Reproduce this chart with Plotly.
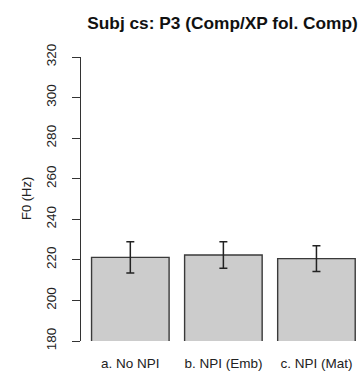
import plotly.graph_objects as go

categories = ["a. No NPI", "b. NPI (Emb)", "c. NPI (Mat)"]
means = [221.2, 222.4, 220.6]
errors = [7.7, 6.5, 6.3]
y_ticks = [180, 200, 220, 240, 260, 280, 300, 320]

FONT = "Liberation Sans, Arial, Helvetica, sans-serif"

fig = go.Figure(
    go.Bar(
        x=categories,
        y=means,
        marker=dict(color="#cccccc", line=dict(color="#3a3a3a", width=1.4)),
        error_y=dict(type="data", array=errors, visible=True,
                     color="#222222", thickness=1.5, width=4),
    )
)

fig.update_layout(
    width=360, height=374,
    margin=dict(l=81, r=0, t=57.3, b=33.3),
    paper_bgcolor="white", plot_bgcolor="white",
    bargap=1 - 1 / 1.2,
    showlegend=False,
    font=dict(family=FONT, color="#222222"),
    title=dict(text="<b>Subj cs: P3 (Comp/XP fol. Comp)</b>",
               x=222.5 / 360, xanchor="center", xref="container",
               y=1 - 23 / 374, yanchor="middle", yref="container",
               font=dict(family=FONT, size=17.3, color="#111111")),
)

fig.update_xaxes(
    type="category",
    range=[-0.530, 2.468],
    showline=False, showgrid=False, zeroline=False,
    ticks="", tickfont=dict(size=13.5, color="#222222"),
    ticklabelstandoff=12,
)

fig.update_yaxes(
    range=[180, 320],
    tickvals=y_ticks,
    ticktext=[str(v) for v in y_ticks],
    tickangle=-90,
    showline=True, linecolor="#333333", linewidth=1,
    ticks="outside", ticklen=8, tickcolor="#333333", tickwidth=1,
    showgrid=False, zeroline=False,
    tickfont=dict(size=13.5, color="#222222"),
    ticklabelstandoff=11,
)

fig.add_annotation(
    text="F0 (Hz)", textangle=-90,
    xref="paper", yref="paper",
    x=(26 - 81) / 279, y=0.5, xanchor="center", yanchor="middle",
    showarrow=False, font=dict(family=FONT, size=13, color="#222222"),
)

fig.write_html("out.html")
